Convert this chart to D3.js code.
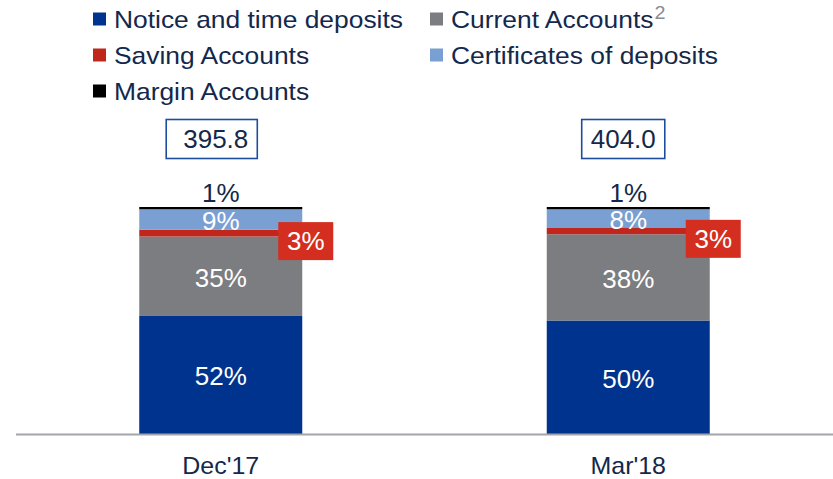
<!DOCTYPE html>
<html>
<head>
<meta charset="utf-8">
<script src="https://cdn.jsdelivr.net/npm/d3@7/dist/d3.min.js"></script>
<style>
  body { margin: 0; background: #fff; }
  svg { display: block; font-family: "Liberation Sans", Arial, sans-serif; }
</style>
</head>
<body>
<div id="chart"></div>
<script>
// data
const categories = ["Dec'17", "Mar'18"];
const totals = [395.8, 404.0];
const noticeTime = [52, 50];
const currentAcc = [35, 38];
const savingAcc = [3, 3];
const certificates = [9, 8];
const marginAcc = [1, 1];
const seriesNames = ["Notice and time deposits", "Current Accounts", "Saving Accounts", "Certificates of deposits", "Margin Accounts"];
const seriesColors = ["#00338d", "#7b7d81", "#c1261d", "#7aa0d3", "#000000"];

const width = 833, height = 479;
const textColor = "#13284b";

const svg = d3.select('#chart')
  .append('svg')
  .attr('width', width)
  .attr('height', height);

const rows = categories.map((c, i) => ({
  category: c,
  total: totals[i],
  s0: noticeTime[i], s1: currentAcc[i], s2: savingAcc[i], s3: certificates[i], s4: marginAcc[i]
}));
const keys = ['s0', 's1', 's2', 's3', 's4'];

const x = d3.scaleBand()
  .domain(categories)
  .range([17, 832])
  .paddingInner(0.6)
  .paddingOuter(0.3);

const y = d3.scaleLinear()
  .domain([0, 100])
  .range([434, 207]);

const stacked = d3.stack().keys(keys)(rows);

// bars
svg.selectAll('g.layer')
  .data(stacked)
  .enter()
  .append('g')
  .attr('class', 'layer')
  .attr('fill', (d, i) => seriesColors[i])
  .selectAll('rect')
  .data(d => d)
  .enter()
  .append('rect')
  .attr('x', d => x(d.data.category))
  .attr('y', d => y(d[1]))
  .attr('width', x.bandwidth())
  .attr('height', d => y(d[0]) - y(d[1]));

// axis line
svg.append('line')
  .attr('x1', 16).attr('x2', 833)
  .attr('y1', 434.5).attr('y2', 434.5)
  .attr('stroke', '#a3a5ab')
  .attr('stroke-width', 2);

// category labels
svg.selectAll('text.cat')
  .data(categories)
  .enter()
  .append('text')
  .attr('class', 'cat')
  .attr('transform', d => `translate(${x(d) + x.bandwidth() / 2},474) scale(1.04,1)`)
  .attr('text-anchor', 'middle')
  .attr('font-size', 24)
  .attr('fill', textColor)
  .text(d => d);

const pct = v => v + '%';

// labels inside segments (blue, grey, light blue)
[0, 1, 3].forEach(k => {
  svg.selectAll('text.in' + k)
    .data(stacked[k])
    .enter()
    .append('text')
    .attr('x', d => x(d.data.category) + x.bandwidth() / 2)
    .attr('y', d => (y(d[0]) + y(d[1])) / 2 + 1)
    .attr('dy', '0.36em')
    .attr('text-anchor', 'middle')
    .attr('font-size', 26)
    .attr('fill', '#fff')
    .text(d => pct(d[1] - d[0]));
});

// margin accounts label above the bar
svg.selectAll('text.top')
  .data(stacked[4])
  .enter()
  .append('text')
  .attr('x', d => x(d.data.category) + x.bandwidth() / 2)
  .attr('y', d => y(d[1]) - 5)
  .attr('text-anchor', 'middle')
  .attr('font-size', 26)
  .attr('fill', textColor)
  .text(d => pct(d[1] - d[0]));

// saving accounts callout (red box at right edge of bar)
const callout = svg.selectAll('g.callout')
  .data(stacked[2])
  .enter()
  .append('g')
  .attr('transform', d => `translate(${x(d.data.category) + x.bandwidth() - 24},${(y(d[0]) + y(d[1])) / 2 - 11})`);
callout.append('rect')
  .attr('width', 55).attr('height', 38)
  .attr('fill', '#d42e20');
callout.append('text')
  .attr('x', 27.5).attr('y', 19)
  .attr('dy', '0.36em')
  .attr('text-anchor', 'middle')
  .attr('font-size', 26)
  .attr('fill', '#fff')
  .text(d => pct(d[1] - d[0]));

// total boxes, sized round their text
const tot = svg.selectAll('g.total')
  .data(rows)
  .enter()
  .append('g')
  .attr('transform', d => `translate(${x(d.category) + x.bandwidth() / 2 - 5},139)`);
const totText = tot.append('text')
  .attr('dy', '0.36em')
  .attr('text-anchor', 'middle')
  .attr('font-size', 26)
  .attr('fill', textColor)
  .text(d => d3.format('.1f')(d.total));
tot.insert('rect', 'text')
  .each(function (d, i) {
    const bb = totText.nodes()[i].getBBox();
    const padL = i === 0 ? 17 : 9;
    d3.select(this)
      .attr('x', bb.x - padL)
      .attr('y', -19.5)
      .attr('width', bb.width + padL + 9)
      .attr('height', 39);
  })
  .attr('fill', '#fff')
  .attr('stroke', '#1d4e9e')
  .attr('stroke-width', 1.6);

// legend
const legendPos = [[93, 19], [430, 19], [93, 55], [430, 55], [93, 91]];
const leg = svg.selectAll('g.legend')
  .data(seriesNames)
  .enter()
  .append('g')
  .attr('transform', (d, i) => `translate(${legendPos[i][0]},${legendPos[i][1]})`);
leg.append('rect')
  .attr('x', 0).attr('y', -6.5)
  .attr('width', 13).attr('height', 13)
  .attr('fill', (d, i) => seriesColors[i]);
const lt = leg.append('text')
  .attr('transform', 'translate(21,8.5) scale(1.1,1)')
  .attr('font-size', 24)
  .attr('fill', textColor)
  .text(d => d);
lt.filter((d, i) => i === 1)
  .append('tspan')
  .attr('dx', 1)
  .attr('dy', -9)
  .attr('font-size', 18)
  .attr('fill', '#8a8c90')
  .text('2');
</script>
</body>
</html>
